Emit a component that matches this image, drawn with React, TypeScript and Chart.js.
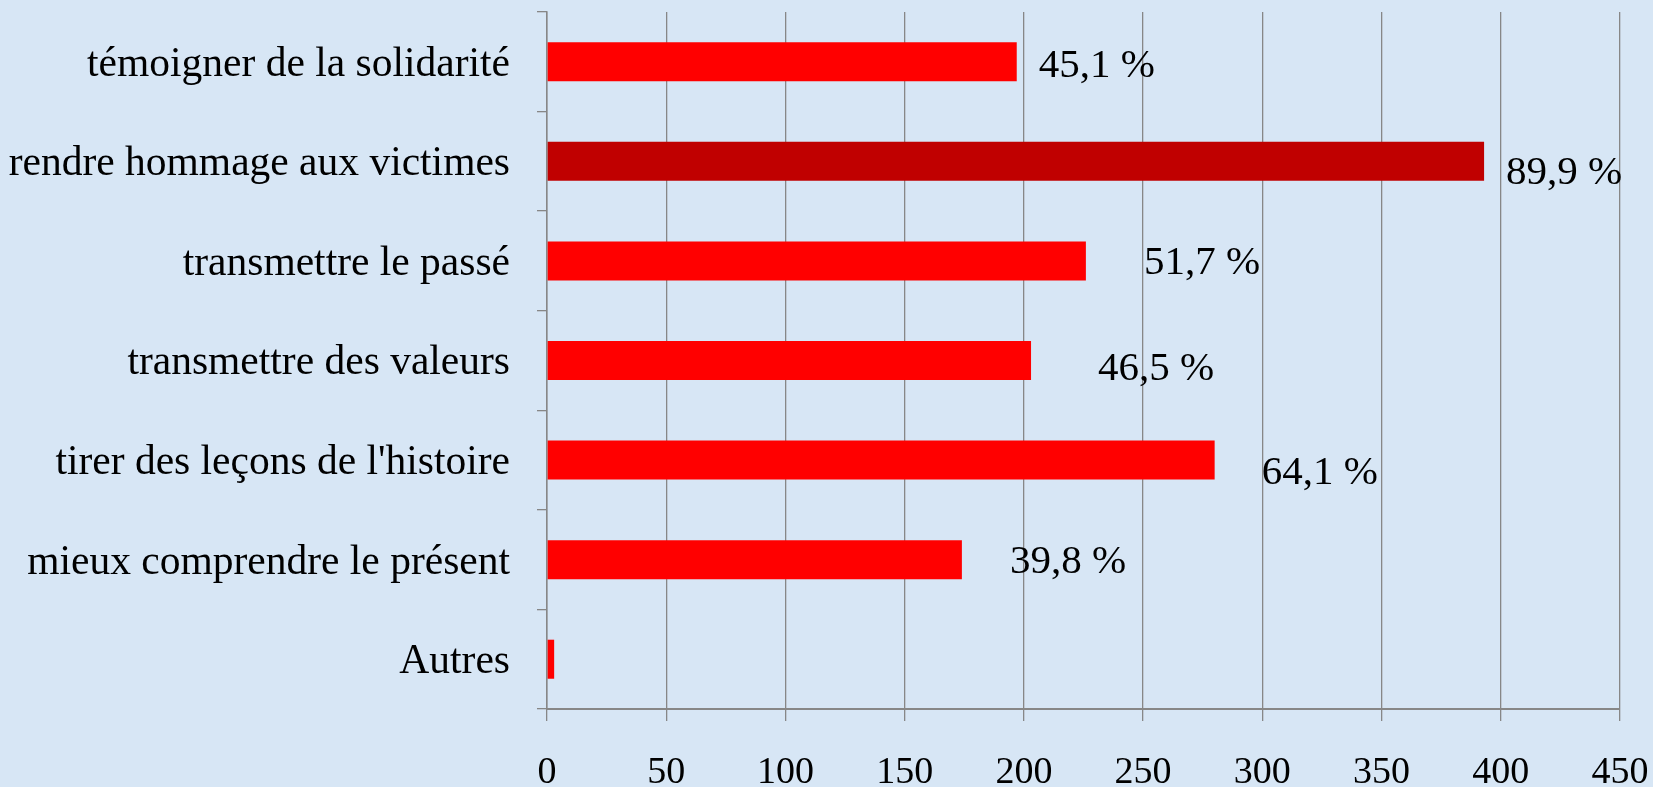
import React, { useEffect, useRef } from "react";
import { Chart, registerables } from "chart.js";

Chart.register(...registerables);

// ---- Data ----
const categories: string[] = [
  "témoigner de la solidarité",
  "rendre hommage aux victimes",
  "transmettre le passé",
  "transmettre des valeurs",
  "tirer des leçons de l'histoire",
  "mieux comprendre le présent",
  "Autres",
];
const counts: number[] = [197, 393, 226, 203, 280, 174, 3];
const percentLabels: string[] = ["45,1 %", "89,9 %", "51,7 %", "46,5 %", "64,1 %", "39,8 %", ""];
const xMin = 0;
const xMax = 450;
const xStep = 50;

// ---- Styling ----
const BAR_RED = "#FF0000";
const BAR_DARK = "#C00000";
const barColors = [BAR_RED, BAR_DARK, BAR_RED, BAR_RED, BAR_RED, BAR_RED, BAR_RED];
const labelNudges: [number, number][] = [
  [22, 4],
  [22, 12],
  [58, 2],
  [67, 9],
  [47, 13],
  [48, 3],
  [0, 0],
];
const GRID = "#878787";
const BG = "#D7E6F5";
const FONT = "'Liberation Serif', 'Times New Roman', serif";

const valueLabelPlugin = {
  id: "valueLabels",
  afterDatasetsDraw(chart: any) {
    const ctx = chart.ctx;
    const meta = chart.getDatasetMeta(0);
    ctx.save();
    ctx.font = `41px ${FONT}`;
    ctx.fillStyle = "#000";
    ctx.textAlign = "left";
    ctx.textBaseline = "middle";
    meta.data.forEach((bar: any, i: number) => {
      const txt = percentLabels[i];
      if (!txt) return;
      const [dx, dy] = labelNudges[i];
      ctx.fillText(txt, bar.x + dx, bar.y + dy);
    });
    ctx.restore();
  },
};

export default function App() {
  const canvasRef = useRef<HTMLCanvasElement | null>(null);

  useEffect(() => {
    if (!canvasRef.current) return;
    const chart = new Chart(canvasRef.current, {
      type: "bar",
      data: {
        labels: categories,
        datasets: [
          {
            data: counts,
            backgroundColor: barColors,
            borderWidth: 0,
            barPercentage: 0.392,
            categoryPercentage: 1.0,
          },
        ],
      },
      options: {
        indexAxis: "y",
        animation: false,
        responsive: false,
        maintainAspectRatio: false,
        devicePixelRatio: 1,
        layout: { padding: { top: 12, right: 33, left: 0, bottom: 0 } },
        plugins: {
          legend: { display: false },
          tooltip: { enabled: false },
          title: { display: false },
        },
        scales: {
          x: {
            type: "linear",
            min: xMin,
            max: xMax,
            ticks: {
              stepSize: xStep,
              color: "#000",
              font: { family: FONT, size: 38 },
              padding: 29,
            },
            grid: {
              color: GRID,
              lineWidth: 1.3,
              tickLength: 12,
              drawTicks: true,
            },
            border: { display: true, color: GRID, width: 2 },
            afterFit: (s: any) => {
              s.height = 78;
              s.paddingLeft = 0;
              s.paddingRight = 0;
            },
          },
          y: {
            type: "category",
            offset: true,
            ticks: {
              color: "#000",
              font: { family: FONT, size: 41.5 },
              padding: 27,
              labelOffset: 3,
            },
            grid: {
              offset: true,
              drawOnChartArea: false,
              drawTicks: true,
              tickLength: 10,
              color: GRID,
              lineWidth: 1.3,
            },
            border: { display: true, color: GRID, width: 1.5 },
            afterFit: (s: any) => {
              s.width = 547;
              s.paddingTop = 0;
              s.paddingBottom = 0;
            },
          },
        },
      },
      plugins: [valueLabelPlugin],
    });
    return () => chart.destroy();
  }, []);

  return (
    <div
      style={{
        position: "absolute",
        left: 0,
        top: 0,
        width: 1653,
        height: 787,
        background: BG,
        overflow: "hidden",
      }}
    >
      <canvas ref={canvasRef} width={1653} height={787} style={{ display: "block" }} />
    </div>
  );
}
